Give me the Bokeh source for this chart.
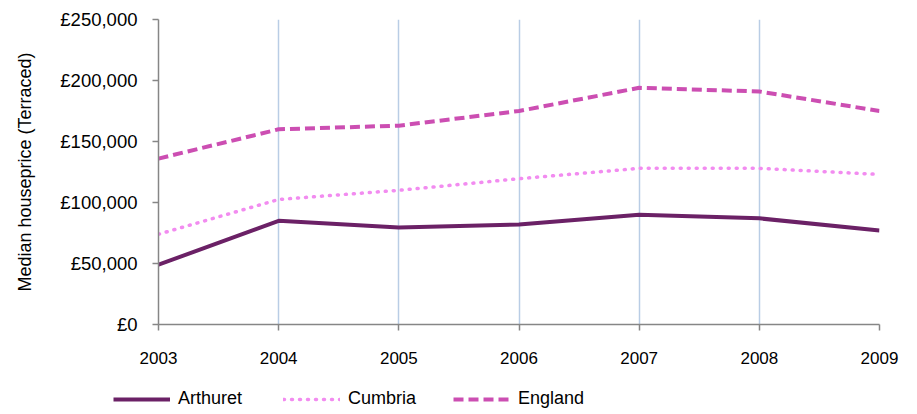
from bokeh.plotting import figure
from bokeh.layouts import column
from bokeh.models import Legend, LegendItem, CustomJSTickFormatter, FixedTicker, Range1d
from bokeh.embed import file_html
from bokeh.resources import INLINE

years = [2003, 2004, 2005, 2006, 2007, 2008, 2009]
arthuret = [49000, 85000, 79500, 82000, 90000, 87000, 77000]
cumbria = [74000, 102500, 110000, 119500, 128000, 128000, 123000]
england = [136000, 160000, 163000, 175000, 194000, 191000, 175000]
y_ticks = [0, 50000, 100000, 150000, 200000, 250000]
series = [("Arthuret", arthuret, dict(line_color="#6B2166", line_width=4)),
          ("Cumbria", cumbria, dict(line_color="#F28CF0", line_width=3.5, line_dash="1 7", line_cap="round")),
          ("England", england, dict(line_color="#CC4EB2", line_width=4, line_dash="10 5"))]

FONT = "Liberation Sans"

p = figure(width=905, height=372, output_backend="svg", toolbar_location=None,
           x_range=Range1d(2003, 2009), y_range=Range1d(0, 250000),
           min_border_left=158, min_border_right=26, min_border_top=19, min_border_bottom=48)
p.outline_line_color = None
p.background_fill_color = "white"
p.frame_align = False

p.ygrid.grid_line_color = None
p.xgrid.ticker = FixedTicker(ticks=years)
p.xgrid.grid_line_color = "#B9CDE5"
p.xgrid.grid_line_width = 1.5

p.xaxis.ticker = FixedTicker(ticks=years)
p.yaxis.ticker = FixedTicker(ticks=y_ticks)
p.yaxis.formatter = CustomJSTickFormatter(code="return '\u00a3' + tick.toLocaleString('en-GB');")
for ax in (p.xaxis, p.yaxis):
    ax.axis_line_color = "#868686"
    ax.axis_line_width = 1.5
    ax.major_tick_line_color = "#868686"
    ax.major_tick_line_width = 1.5
    ax.major_tick_in = 0
    ax.major_tick_out = 6
    ax.minor_tick_line_color = None
    ax.major_label_text_font = FONT
    ax.major_label_text_color = "black"
p.xaxis.major_label_text_font_size = "17px"
p.yaxis.major_label_text_font_size = "18.5px"
p.xaxis.major_label_standoff = 21
p.yaxis.major_label_standoff = 15
p.yaxis.axis_label = "Median houseprice (Terraced)"
p.yaxis.axis_label_text_font = FONT
p.yaxis.axis_label_text_font_size = "18px"
p.yaxis.axis_label_text_font_style = "normal"
p.yaxis.axis_label_text_color = "black"
p.yaxis.axis_label_standoff = 22

for name, vals, style in series:
    p.line(years, vals, **style)

# legend strip below the chart (its lines fall outside its ranges, only the legend shows)
lg = figure(width=905, height=40, output_backend="svg", toolbar_location=None,
            x_range=Range1d(0, 1), y_range=Range1d(0, 1), x_axis_type=None, y_axis_type=None,
            min_border_left=0, min_border_right=0, min_border_top=0, min_border_bottom=0)
lg.outline_line_color = None
lg.xgrid.visible = False
lg.ygrid.visible = False
lg.frame_align = False
items = []
for name, vals, style in series:
    r = lg.line(years, vals, **style)
    items.append(LegendItem(label=name, renderers=[r]))

legend = Legend(items=items, orientation="horizontal", location=(113, 3),
                glyph_width=57, glyph_height=16, label_standoff=8, label_width=100,
                spacing=5, padding=0, margin=0,
                label_text_font=FONT, label_text_font_size="18px", label_text_color="black",
                border_line_color=None, background_fill_alpha=0)
lg.add_layout(legend, "center")

layout = column(p, lg, spacing=0)
open("out.html", "w").write(file_html(layout, INLINE))
